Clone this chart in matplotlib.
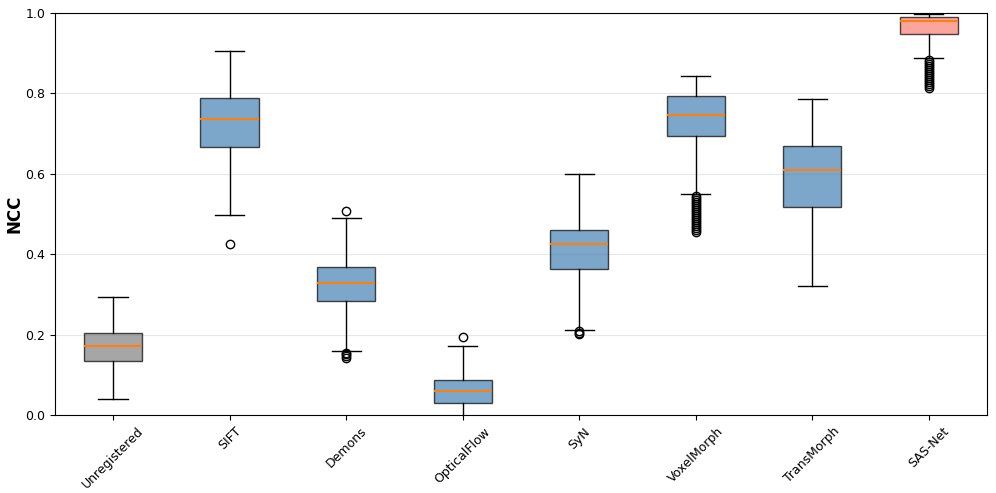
import matplotlib

matplotlib.use("Agg")

import matplotlib.pyplot as plt  # noqa: E402

# ───────────────────────────── Data ───────────────────────────────────────
methods = ["Unregistered", "SIFT", "Demons", "OpticalFlow", "SyN",
           "VoxelMorph", "TransMorph", "SAS-Net"]
whislo = [0.040, 0.498, 0.159, -0.005, 0.211, 0.550, 0.321, 0.888]
q1 = [0.134, 0.666, 0.284, 0.030, 0.363, 0.694, 0.517, 0.947]
med = [0.172, 0.736, 0.328, 0.059, 0.425, 0.746, 0.609, 0.980]
q3 = [0.205, 0.788, 0.368, 0.087, 0.461, 0.793, 0.669, 0.989]
whishi = [0.294, 0.905, 0.490, 0.172, 0.600, 0.843, 0.786, 0.997]
fliers = [
    [],
    [0.425],
    [0.507, 0.155, 0.151, 0.147, 0.143],
    [0.194],
    [0.208, 0.205, 0.202],
    [0.545, 0.540, 0.535, 0.530, 0.525, 0.520, 0.515, 0.510, 0.505, 0.500,
     0.495, 0.490, 0.485, 0.480, 0.475, 0.470, 0.465, 0.460, 0.456],
    [],
    [0.883, 0.878, 0.873, 0.868, 0.863, 0.858, 0.853, 0.848, 0.843, 0.838,
     0.833, 0.828, 0.823, 0.818, 0.812],
]
box_colors = ["gray", "steelblue", "steelblue", "steelblue", "steelblue",
              "steelblue", "steelblue", "salmon"]

# ───────────────────────────── Plot ───────────────────────────────────────
stats = [
    {"label": m, "whislo": a, "q1": b, "med": c, "q3": d, "whishi": e, "fliers": f}
    for m, a, b, c, d, e, f in zip(methods, whislo, q1, med, q3, whishi, fliers)
]

fig, ax = plt.subplots(figsize=(9.96, 4.93), dpi=100)
fig.subplots_adjust(left=0.055, right=0.991, top=0.974, bottom=0.158)

bp = ax.bxp(stats, patch_artist=True, widths=0.5,
            medianprops={"color": "C1", "linewidth": 1.5})
for patch, col in zip(bp["boxes"], box_colors):
    patch.set_facecolor(col)
    patch.set_alpha(0.7)

ax.set_ylim(0, 1)
ax.set_ylabel("NCC", fontsize=12, fontweight="bold", labelpad=1)
ax.tick_params(axis="both", labelsize=9)
ax.tick_params(axis="x", rotation=45)
ax.yaxis.grid(True, alpha=0.3)
ax.set_axisbelow(True)

fig.savefig("out.png", dpi=100)
